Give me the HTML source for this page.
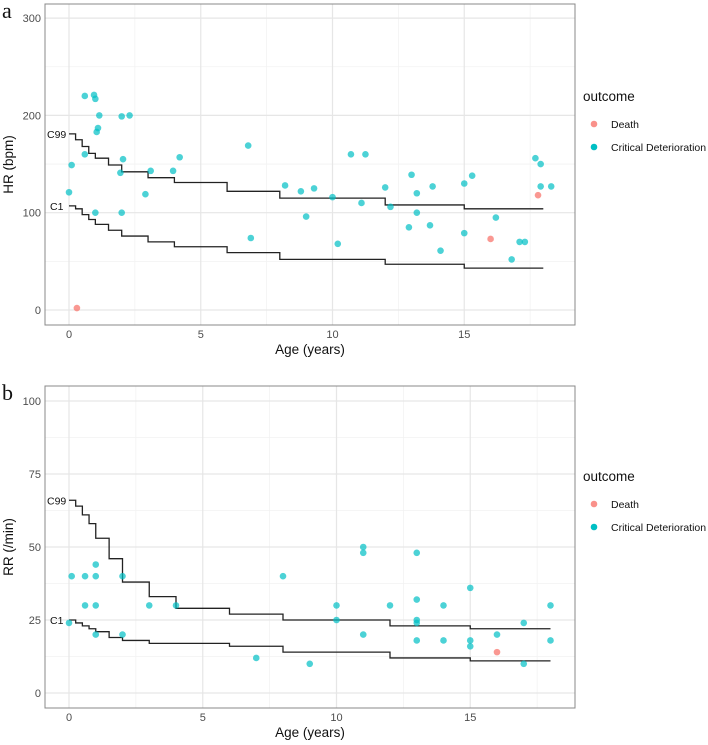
<!DOCTYPE html>
<html><head><meta charset="utf-8"><style>
body{margin:0;background:#fff;width:708px;height:745px;overflow:hidden;font-family:"Liberation Sans",sans-serif}
svg{position:absolute;left:0;top:0}
</style></head><body>
<svg id="chart" width="708" height="745"></svg>
<script>
// Panel a data
const hrCdAge=[0,0.1,0.6,0.6,0.95,1.0,1.05,1.1,1.15,1.0,2.0,2.05,1.95,2.0,2.3,2.9,3.1,3.95,4.2,6.8,6.9,8.2,8.8,9.0,9.3,10.0,10.2,10.7,11.25,11.1,12.0,12.2,13.0,13.2,13.2,12.9,13.8,13.7,14.1,15.0,15.3,15.0,16.2,16.8,17.1,17.3,17.7,17.9,17.9,18.3];
const hrCdVal=[121,149,220,160,221,217,183,187,200,100,199,155,141,100,200,119,143,143,157,169,74,128,122,96,125,116,68,160,160,110,126,106,139,120,100,85,127,87,61,130,138,79,95,52,70,70,156,150,127,127];
const hrDeathAge=[0.3,16.0,17.8];
const hrDeathVal=[2,73,118];
const hrStepAge=[0,0.25,0.5,0.75,1,1.5,2,3,4,6,8,12,15,18];
const hrC99=[181,175,168,161,156,149,142,136,131,122,115,108,104,104];
const hrC1=[107,104,98,93,88,82,76,70,65,59,52,47,43,43];
const hrTicks=[0,100,200,300];
// Panel b data
const rrCdAge=[0,0.1,0.6,0.6,1,1,1,1,2,2,3,4,7,8,9,10,10,11,11,11,12,13,13,13,13,13,14,14,15,15,15,16,17,17,18,18];
const rrCdVal=[24,40,40,30,44,40,30,20,40,20,30,30,12,40,10,30,25,50,48,20,30,48,32,25,24,18,30,18,36,18,16,20,24,10,30,18];
const rrDeathAge=[16];
const rrDeathVal=[14];
const rrStepAge=[0,0.25,0.5,0.75,1,1.5,2,3,4,6,8,12,15,18];
const rrC99=[66,64,61,58,53,46,38,33,29,27,25,23,22,22];
const rrC1=[25,24,23,22,21,19,18,17,17,16,14,12,11,11];
const rrTicks=[0,25,50,75,100];
const xTicks=[0,5,10,15];

const NS="http://www.w3.org/2000/svg";
const svg=document.getElementById('chart');
function mk(tag,attrs,parent,txt){const e=document.createElementNS(NS,tag);for(const k in attrs)e.setAttribute(k,attrs[k]);if(txt!==undefined)e.textContent=txt;(parent||svg).appendChild(e);return e;}

function panel(o){
  const g=mk('g',{});
  
  
  const X=v=>o.x0+v*o.xs, Y=v=>o.y0-(v-o.yminT)*o.ys;
  mk('rect',{x:o.L,y:o.T,width:o.R-o.L,height:o.B-o.T,fill:'#fff'},g);
  // minor grid
  for(let v=-2.5;v<=20;v+=5){const x=X(v);if(x>o.L&&x<o.R)mk('line',{x1:x,x2:x,y1:o.T,y2:o.B,stroke:'#f2f2f2','stroke-width':0.8},g);}
  for(let i=0;i<o.ticks.length-1;i++){const y=Y((o.ticks[i]+o.ticks[i+1])/2);mk('line',{x1:o.L,x2:o.R,y1:y,y2:y,stroke:'#f2f2f2','stroke-width':0.8},g);}
  for(let v=-o.ticks[1]/2;v>-1e9;v=-1e9){const y=Y(v);if(y<o.B)mk('line',{x1:o.L,x2:o.R,y1:y,y2:y,stroke:'#f2f2f2','stroke-width':0.8},g);}
  // major grid
  xTicks.forEach(v=>{const x=X(v);mk('line',{x1:x,x2:x,y1:o.T,y2:o.B,stroke:'#e6e6e6','stroke-width':1.2},g);
    const t=mk('text',{x:x,y:o.B+13,'font-size':11,fill:'#4d4d4d','text-anchor':'middle'},g,v);
    });
  o.ticks.forEach(v=>{const y=Y(v);mk('line',{x1:o.L,x2:o.R,y1:y,y2:y,stroke:'#e6e6e6','stroke-width':1.2},g);
    const t=mk('text',{x:o.L-4,y:y+4,'font-size':11,fill:'#4d4d4d','text-anchor':'end'},g,v);
    });
  // step lines
  [[o.c99,'c99-line'],[o.c1,'c1-line']].forEach(([arr,nm])=>{
    let d='M'+X(o.sa[0])+','+Y(arr[0]);
    for(let i=1;i<o.sa.length;i++){d+=' H'+X(o.sa[i])+' V'+Y(arr[i]);}
    const p=mk('path',{d:d,fill:'none',stroke:'#222','stroke-width':1.3},g);
    
  });
  let t=mk('text',{x:o.L+2,y:Y(o.c99[0])+4,'font-size':10.5,fill:'#111'},g,'C99');
  
  t=mk('text',{x:o.L+5,y:Y(o.c1[0])+4,'font-size':10.5,fill:'#111'},g,'C1');
  
  // points
  o.cdA.forEach((a,i)=>{const c=mk('circle',{cx:X(a),cy:Y(o.cdV[i]),r:3.3,fill:'#00BFC4','fill-opacity':0.7},g);
    });
  o.dA.forEach((a,i)=>{const c=mk('circle',{cx:X(a),cy:Y(o.dV[i]),r:3.3,fill:'#F8766D','fill-opacity':0.75},g);
    });
  mk('rect',{x:o.L,y:o.T,width:o.R-o.L,height:o.B-o.T,fill:'none',stroke:'#888','stroke-width':1},g);
  // titles
  t=mk('text',{x:310,y:o.B+29,'font-size':13.5,fill:'#111','text-anchor':'middle'},g,'Age (years)');
  
  const cy=(o.T+o.B)/2;
  t=mk('text',{x:0,y:0,'font-size':13.5,fill:'#111','text-anchor':'middle',transform:`translate(${o.ytx},${cy}) rotate(-90)`},g,o.ytitle);
  
  t=mk('text',{x:2,y:o.T+14,'font-size':22,fill:'#111','font-family':'Liberation Serif, serif'},g,o.letter);
  
  // legend
  const lg=mk('g',{},g);
  mk('text',{x:583,y:o.legY,'font-size':13.5,fill:'#111'},lg,'outcome');
  let c=mk('circle',{cx:594,cy:o.legY+23,r:3.3,fill:'#F8766D','fill-opacity':0.8},lg);
  
  t=mk('text',{x:611,y:o.legY+27,'font-size':10.5,fill:'#111'},lg,'Death');
  
  c=mk('circle',{cx:594,cy:o.legY+46,r:3.3,fill:'#00BFC4'},lg);
  
  t=mk('text',{x:611,y:o.legY+50,'font-size':10.5,fill:'#111'},lg,'Critical Deterioration');
  
}
panel({name:'panel-a-hr',L:45,R:575,T:4,B:325,x0:69,xs:26.35,y0:310,yminT:0,ys:0.973,ticks:hrTicks,
  sa:hrStepAge,c99:hrC99,c1:hrC1,cdA:hrCdAge,cdV:hrCdVal,dA:hrDeathAge,dV:hrDeathVal,ytitle:'HR (bpm)',ytx:13,letter:'a',legY:101});
panel({name:'panel-b-rr',L:45,R:575,T:386,B:708,x0:69,xs:26.75,y0:693,yminT:0,ys:2.92,ticks:rrTicks,
  sa:rrStepAge,c99:rrC99,c1:rrC1,cdA:rrCdAge,cdV:rrCdVal,dA:rrDeathAge,dV:rrDeathVal,ytitle:'RR (/min)',ytx:13,letter:'b',legY:481});
</script>
</body></html>
